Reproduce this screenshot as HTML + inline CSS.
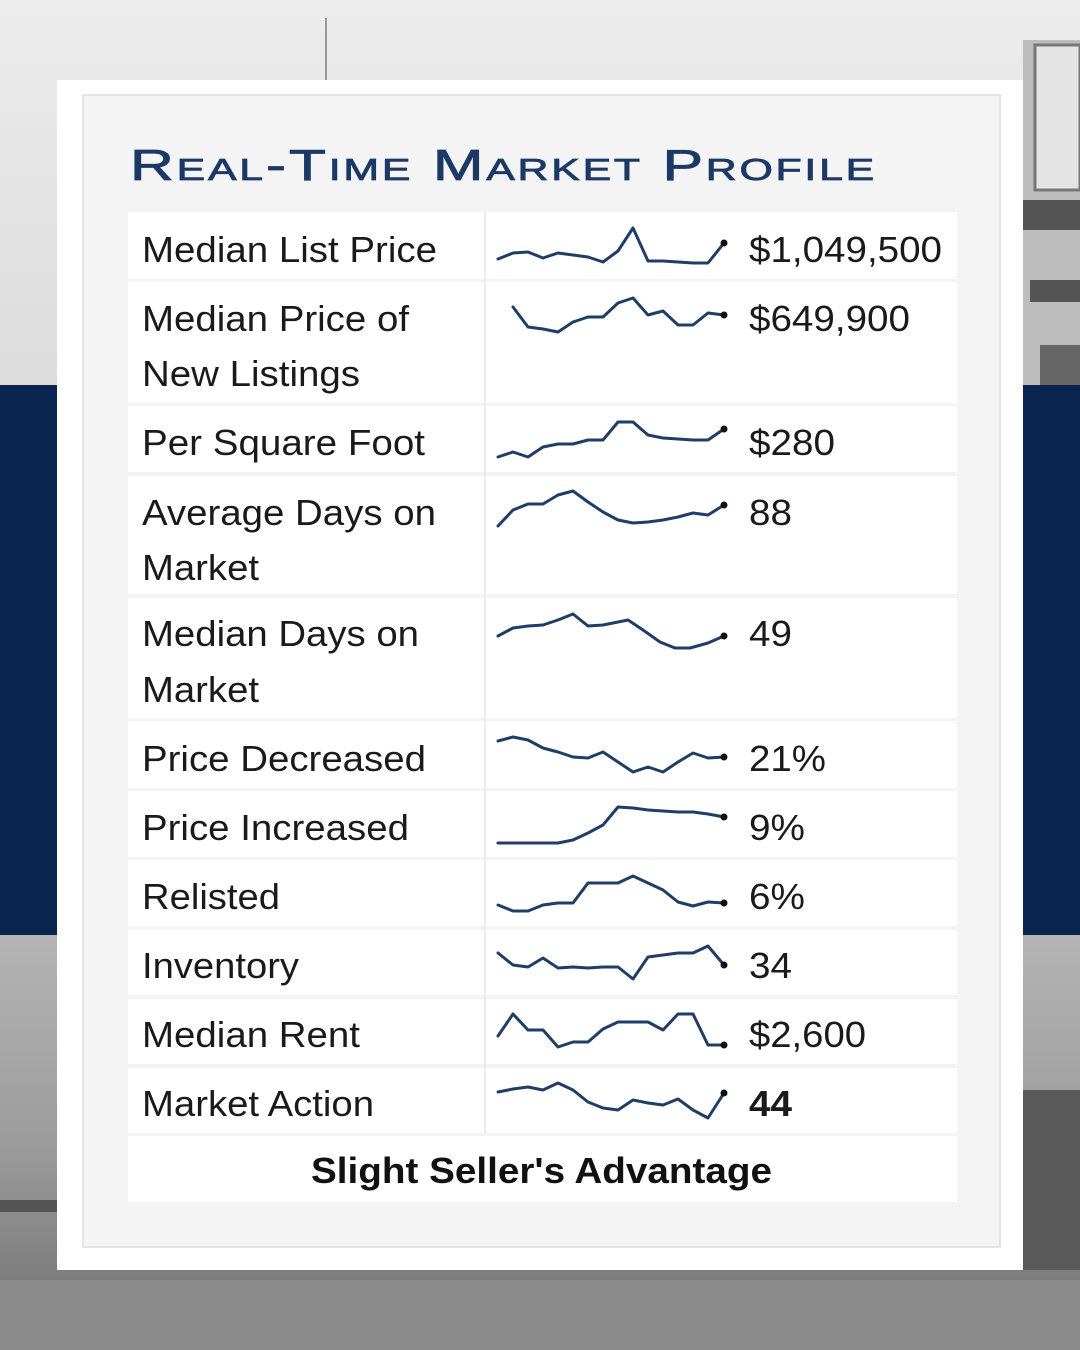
<!DOCTYPE html>
<html><head><meta charset="utf-8"><style>
html,body{margin:0;padding:0;width:1080px;height:1350px;overflow:hidden;background:#e6e6e6}
svg{display:block}
text{font-family:"Liberation Sans",sans-serif}
</style></head><body>
<svg width="1080" height="1350" viewBox="0 0 1080 1350" xmlns="http://www.w3.org/2000/svg">
<defs>
<linearGradient id="top" x1="0" y1="0" x2="0" y2="1"><stop offset="0" stop-color="#ececec"/><stop offset="1" stop-color="#dcdcdc"/></linearGradient>
<linearGradient id="bot" x1="0" y1="0" x2="0" y2="1"><stop offset="0" stop-color="#b4b4b4"/><stop offset="0.5" stop-color="#9c9c9c"/><stop offset="1" stop-color="#6e6e6e"/></linearGradient>
</defs>
<rect x="0" y="0" width="1080" height="385" fill="url(#top)"/>
<rect x="0" y="935" width="1080" height="415" fill="url(#bot)"/>
<rect x="0" y="1280" width="1080" height="70" fill="#8a8a8a"/>
<rect x="1023" y="40" width="57" height="345" fill="#bdbdbd"/>
<rect x="1035" y="45" width="45" height="145" fill="#e4e4e4" stroke="#777" stroke-width="3"/>
<rect x="1023" y="200" width="57" height="30" fill="#555"/>
<rect x="1030" y="280" width="50" height="22" fill="#555"/>
<rect x="1040" y="345" width="40" height="40" fill="#666"/>
<rect x="1023" y="1090" width="57" height="180" fill="#5a5a5a"/>
<rect x="0" y="1200" width="57" height="12" fill="#555"/>
<rect x="325" y="18" width="2" height="62" fill="#999"/>
<rect x="0" y="385" width="1080" height="550" fill="#0a2450"/>
<rect x="57" y="80" width="966" height="1190" fill="#ffffff"/>
<rect x="83" y="95" width="917" height="1152" fill="#f4f4f4" stroke="#e4e4e4" stroke-width="2"/>
<text x="130" y="180" font-size="44" fill="#1c3966" stroke="#1c3966" stroke-width="0.8" textLength="747" lengthAdjust="spacingAndGlyphs" style="font-variant:small-caps;letter-spacing:2px">Real-Time Market Profile</text>
<g fill="#ffffff">
<rect x="128" y="212" width="829" height="67"/>
<rect x="128" y="282" width="829" height="121"/>
<rect x="128" y="406" width="829" height="66"/>
<rect x="128" y="476" width="829" height="118"/>
<rect x="128" y="598" width="829" height="120"/>
<rect x="128" y="721" width="829" height="67"/>
<rect x="128" y="791" width="829" height="66"/>
<rect x="128" y="860" width="829" height="66"/>
<rect x="128" y="930" width="829" height="65"/>
<rect x="128" y="999" width="829" height="65"/>
<rect x="128" y="1068" width="829" height="65"/>
<rect x="128" y="1136" width="829" height="66"/>
</g>
<g fill="#ececec"><rect x="484" y="212" width="2" height="921"/></g>
<g font-size="36" fill="#1a1a1a">
<text x="142" y="262" textLength="295" lengthAdjust="spacingAndGlyphs">Median List Price</text>
<text x="142" y="331" textLength="267" lengthAdjust="spacingAndGlyphs">Median Price of</text>
<text x="142" y="386" textLength="218" lengthAdjust="spacingAndGlyphs">New Listings</text>
<text x="142" y="455" textLength="283" lengthAdjust="spacingAndGlyphs">Per Square Foot</text>
<text x="142" y="525" textLength="294" lengthAdjust="spacingAndGlyphs">Average Days on</text>
<text x="142" y="580" textLength="117" lengthAdjust="spacingAndGlyphs">Market</text>
<text x="142" y="646" textLength="277" lengthAdjust="spacingAndGlyphs">Median Days on</text>
<text x="142" y="702" textLength="117" lengthAdjust="spacingAndGlyphs">Market</text>
<text x="142" y="771" textLength="284" lengthAdjust="spacingAndGlyphs">Price Decreased</text>
<text x="142" y="840" textLength="267" lengthAdjust="spacingAndGlyphs">Price Increased</text>
<text x="142" y="909" textLength="138" lengthAdjust="spacingAndGlyphs">Relisted</text>
<text x="142" y="978" textLength="157" lengthAdjust="spacingAndGlyphs">Inventory</text>
<text x="142" y="1047" textLength="218" lengthAdjust="spacingAndGlyphs">Median Rent</text>
<text x="142" y="1116" textLength="232" lengthAdjust="spacingAndGlyphs">Market Action</text>
<text x="749" y="262" textLength="193" lengthAdjust="spacingAndGlyphs">$1,049,500</text>
<text x="749" y="331" textLength="161" lengthAdjust="spacingAndGlyphs">$649,900</text>
<text x="749" y="455" textLength="86" lengthAdjust="spacingAndGlyphs">$280</text>
<text x="749" y="525" textLength="43" lengthAdjust="spacingAndGlyphs">88</text>
<text x="749" y="646" textLength="43" lengthAdjust="spacingAndGlyphs">49</text>
<text x="749" y="771" textLength="77" lengthAdjust="spacingAndGlyphs">21%</text>
<text x="749" y="840" textLength="56" lengthAdjust="spacingAndGlyphs">9%</text>
<text x="749" y="909" textLength="56" lengthAdjust="spacingAndGlyphs">6%</text>
<text x="749" y="978" textLength="43" lengthAdjust="spacingAndGlyphs">34</text>
<text x="749" y="1047" textLength="117" lengthAdjust="spacingAndGlyphs">$2,600</text>
<text x="749" y="1116" textLength="43" lengthAdjust="spacingAndGlyphs" font-weight="bold">44</text>
<text x="311" y="1183" textLength="461" lengthAdjust="spacingAndGlyphs" font-weight="bold" fill="#111">Slight Seller's Advantage</text>
</g>
<g fill="none" stroke="#1f3d66" stroke-width="3" stroke-linejoin="round" stroke-linecap="round">
<polyline points="498,259 513,253 528,252 543,258 558,253 573,255 588,257 603,262 618,251 633,228 648,261 663,261 678,262 693,263 708,263 724,243"/>
<polyline points="513,307 528,327 543,329 558,332 573,322 588,317 603,317 618,303 633,298 648,315 663,311 678,325 693,325 708,313 724,315"/>
<polyline points="498,457 513,452 528,457 543,447 558,444 573,444 588,440 603,440 618,422 633,422 648,435 663,438 678,439 693,440 708,440 724,429"/>
<polyline points="498,526 513,510 528,504 543,504 558,495 573,491 588,502 603,512 618,520 633,523 648,522 663,520 678,517 693,513 708,515 724,505"/>
<polyline points="498,636 513,628 528,626 543,625 558,620 573,614 588,626 603,625 618,622 628,620 643,630 660,642 675,648 690,648 708,643 724,636"/>
<polyline points="498,741 513,737 528,740 543,748 558,752 573,757 588,758 603,752 618,762 633,772 648,767 663,772 678,762 693,753 708,758 724,757"/>
<polyline points="498,843 513,843 528,843 543,843 558,843 573,840 588,833 603,825 618,807 633,808 648,810 663,811 678,812 693,812 708,814 724,817"/>
<polyline points="498,905 513,911 528,911 543,905 558,903 573,903 588,883 603,883 618,883 633,876 648,883 663,890 678,902 693,906 708,902 724,903"/>
<polyline points="498,953 513,965 528,967 543,958 558,968 573,967 588,968 603,967 618,967 633,979 648,957 663,955 678,953 693,953 708,946 724,965"/>
<polyline points="498,1036 513,1014 528,1030 543,1030 558,1047 573,1042 588,1042 603,1029 618,1022 633,1022 648,1022 663,1030 678,1014 693,1014 708,1045 724,1045"/>
<polyline points="498,1092 513,1089 528,1087 543,1090 558,1083 573,1090 588,1102 603,1108 618,1110 633,1100 648,1103 663,1105 678,1099 693,1110 708,1118 724,1093"/>
</g>
<g fill="#111">
<circle cx="724" cy="243" r="3.5"/><circle cx="724" cy="315" r="3.5"/><circle cx="724" cy="429" r="3.5"/><circle cx="724" cy="505" r="3.5"/><circle cx="724" cy="636" r="3.5"/><circle cx="724" cy="757" r="3.5"/><circle cx="724" cy="817" r="3.5"/><circle cx="724" cy="903" r="3.5"/><circle cx="724" cy="965" r="3.5"/><circle cx="724" cy="1045" r="3.5"/><circle cx="724" cy="1093" r="3.5"/>
</g>
</svg>
</body></html>
